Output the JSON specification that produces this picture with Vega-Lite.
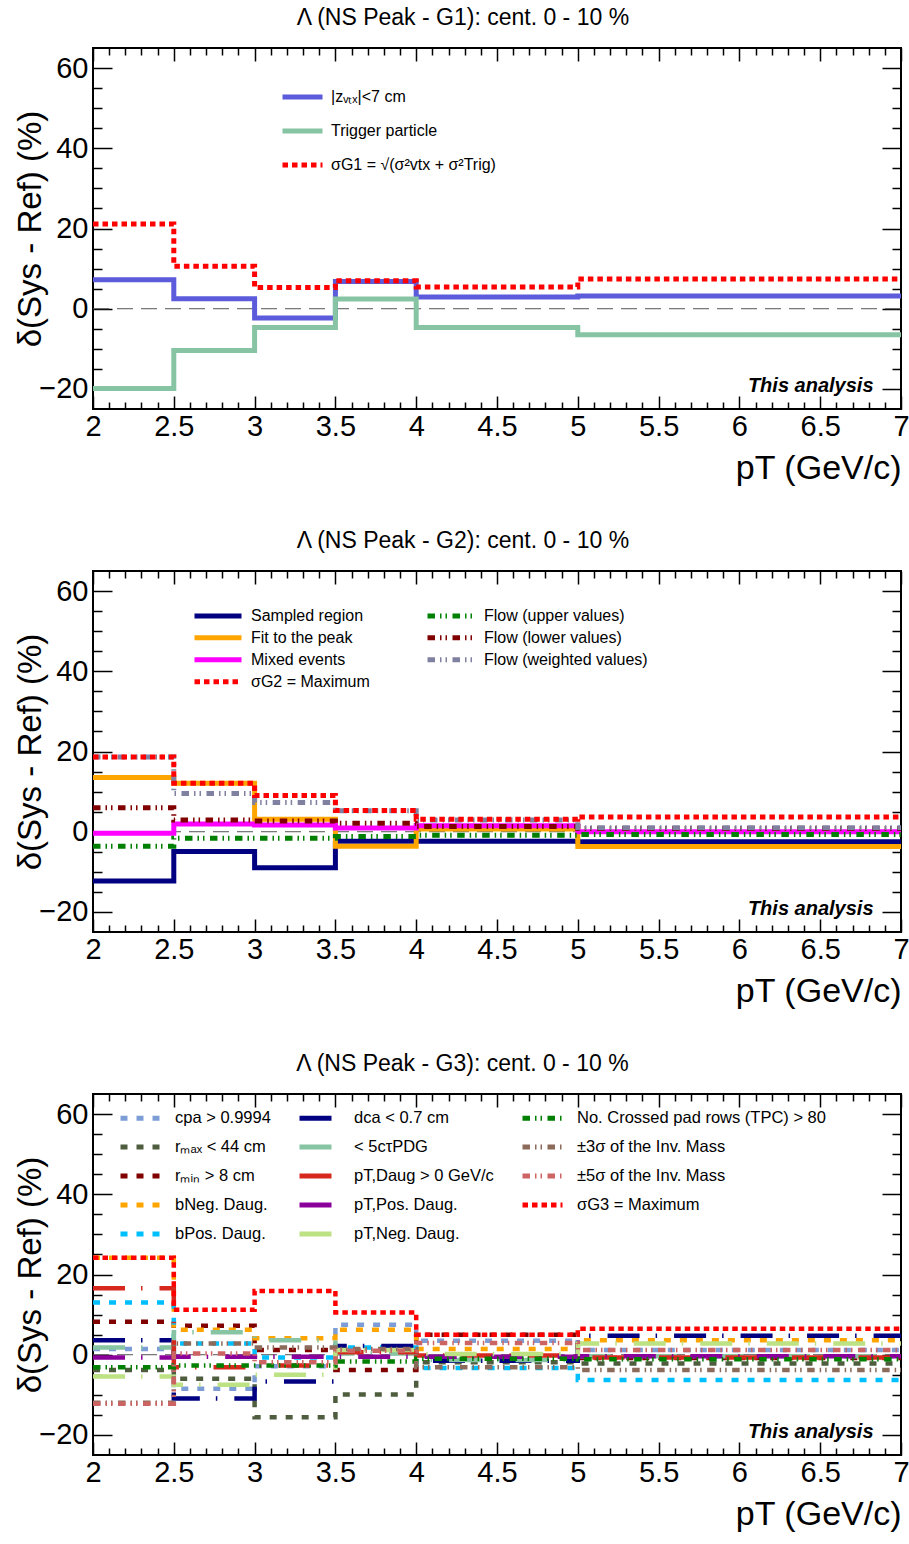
{
  "$schema": "https://vega.github.io/schema/vega-lite/v6.json",
  "background": "white",
  "padding": {"left": 13, "top": 6, "right": 0, "bottom": 0},
  "spacing": 43,
  "config": {
    "view": {"stroke": "black", "strokeWidth": 2},
    "axis": {"grid": false, "domain": false, "labelFont": "Liberation Sans", "labelFontSize": 29, "labelColor": "black", "titleFont": "Liberation Sans", "titleFontWeight": "normal", "titleColor": "black", "tickColor": "black", "tickWidth": 1.5, "labelOverlap": false, "labelFlush": false},
    "legend": {"labelFont": "Liberation Sans", "labelColor": "black", "labelLimit": 500}
  },
  "datasets": {
    "g1": [
      {"pt": 2, "v": 7.2, "s": "|zᵥₜₓ|<7 cm"}, {"pt": 2.5, "v": 2.5, "s": "|zᵥₜₓ|<7 cm"}, {"pt": 3, "v": -2.3, "s": "|zᵥₜₓ|<7 cm"}, {"pt": 3.5, "v": 6.8, "s": "|zᵥₜₓ|<7 cm"}, {"pt": 4, "v": 2.9, "s": "|zᵥₜₓ|<7 cm"}, {"pt": 5, "v": 3.2, "s": "|zᵥₜₓ|<7 cm"}, {"pt": 7, "v": 3.2, "s": "|zᵥₜₓ|<7 cm"},
      {"pt": 2, "v": -19.9, "s": "Trigger particle"}, {"pt": 2.5, "v": -10.4, "s": "Trigger particle"}, {"pt": 3, "v": -4.7, "s": "Trigger particle"}, {"pt": 3.5, "v": 2.4, "s": "Trigger particle"}, {"pt": 4, "v": -4.7, "s": "Trigger particle"}, {"pt": 5, "v": -6.5, "s": "Trigger particle"}, {"pt": 7, "v": -6.5, "s": "Trigger particle"},
      {"pt": 2, "v": 21.1, "s": "σG1 = √(σ²vtx + σ²Trig)"}, {"pt": 2.5, "v": 10.6, "s": "σG1 = √(σ²vtx + σ²Trig)"}, {"pt": 3, "v": 5.3, "s": "σG1 = √(σ²vtx + σ²Trig)"}, {"pt": 3.5, "v": 7.0, "s": "σG1 = √(σ²vtx + σ²Trig)"}, {"pt": 4, "v": 5.4, "s": "σG1 = √(σ²vtx + σ²Trig)"}, {"pt": 5, "v": 7.4, "s": "σG1 = √(σ²vtx + σ²Trig)"}, {"pt": 7, "v": 7.4, "s": "σG1 = √(σ²vtx + σ²Trig)"}
    ],
    "g2": [
      {"pt": 2, "v": -12.3, "s": "Sampled region"}, {"pt": 2.5, "v": -4.9, "s": "Sampled region"}, {"pt": 3, "v": -9.0, "s": "Sampled region"}, {"pt": 3.5, "v": -2.4, "s": "Sampled region"}, {"pt": 4, "v": -2.4, "s": "Sampled region"}, {"pt": 5, "v": -2.5, "s": "Sampled region"}, {"pt": 7, "v": -2.5, "s": "Sampled region"},
      {"pt": 2, "v": 13.5, "s": "Fit to the peak"}, {"pt": 2.5, "v": 12.1, "s": "Fit to the peak"}, {"pt": 3, "v": 3.1, "s": "Fit to the peak"}, {"pt": 3.5, "v": -3.6, "s": "Fit to the peak"}, {"pt": 4, "v": 0.7, "s": "Fit to the peak"}, {"pt": 5, "v": -3.7, "s": "Fit to the peak"}, {"pt": 7, "v": -3.7, "s": "Fit to the peak"},
      {"pt": 2, "v": -0.4, "s": "Mixed events"}, {"pt": 2.5, "v": 1.9, "s": "Mixed events"}, {"pt": 3, "v": 1.7, "s": "Mixed events"}, {"pt": 3.5, "v": 0.9, "s": "Mixed events"}, {"pt": 4, "v": 1.5, "s": "Mixed events"}, {"pt": 5, "v": 0.0, "s": "Mixed events"}, {"pt": 7, "v": 0.0, "s": "Mixed events"},
      {"pt": 2, "v": -3.6, "s": "Flow (upper values)"}, {"pt": 2.5, "v": -1.6, "s": "Flow (upper values)"}, {"pt": 3, "v": -1.6, "s": "Flow (upper values)"}, {"pt": 3.5, "v": -1.2, "s": "Flow (upper values)"}, {"pt": 4, "v": -0.9, "s": "Flow (upper values)"}, {"pt": 5, "v": -0.7, "s": "Flow (upper values)"}, {"pt": 7, "v": -0.7, "s": "Flow (upper values)"},
      {"pt": 2, "v": 6.0, "s": "Flow (lower values)"}, {"pt": 2.5, "v": 2.9, "s": "Flow (lower values)"}, {"pt": 3, "v": 2.7, "s": "Flow (lower values)"}, {"pt": 3.5, "v": 2.1, "s": "Flow (lower values)"}, {"pt": 4, "v": 1.3, "s": "Flow (lower values)"}, {"pt": 5, "v": 0.8, "s": "Flow (lower values)"}, {"pt": 7, "v": 0.8, "s": "Flow (lower values)"},
      {"pt": 2, "v": 18.6, "s": "Flow (weighted values)"}, {"pt": 2.5, "v": 9.5, "s": "Flow (weighted values)"}, {"pt": 3, "v": 7.3, "s": "Flow (weighted values)"}, {"pt": 3.5, "v": 5.2, "s": "Flow (weighted values)"}, {"pt": 4, "v": 2.9, "s": "Flow (weighted values)"}, {"pt": 5, "v": 1.0, "s": "Flow (weighted values)"}, {"pt": 7, "v": 1.0, "s": "Flow (weighted values)"},
      {"pt": 2, "v": 18.6, "s": "σG2 = Maximum"}, {"pt": 2.5, "v": 12.1, "s": "σG2 = Maximum"}, {"pt": 3, "v": 9.0, "s": "σG2 = Maximum"}, {"pt": 3.5, "v": 5.3, "s": "σG2 = Maximum"}, {"pt": 4, "v": 3.1, "s": "σG2 = Maximum"}, {"pt": 5, "v": 3.7, "s": "σG2 = Maximum"}, {"pt": 7, "v": 3.7, "s": "σG2 = Maximum"}
    ],
    "g3": [
      {"pt": 2, "v": 1.4, "s": "cpa > 0.9994"}, {"pt": 2.5, "v": -8.5, "s": "cpa > 0.9994"}, {"pt": 3, "v": -2.9, "s": "cpa > 0.9994"}, {"pt": 3.5, "v": 7.5, "s": "cpa > 0.9994"}, {"pt": 4, "v": 3.5, "s": "cpa > 0.9994"}, {"pt": 5, "v": 1.2, "s": "cpa > 0.9994"}, {"pt": 7, "v": 1.2, "s": "cpa > 0.9994"},
      {"pt": 2, "v": -3.8, "s": "rₘₐₓ < 44 cm"}, {"pt": 2.5, "v": -6.0, "s": "rₘₐₓ < 44 cm"}, {"pt": 3, "v": -15.6, "s": "rₘₐₓ < 44 cm"}, {"pt": 3.5, "v": -9.9, "s": "rₘₐₓ < 44 cm"}, {"pt": 4, "v": -1.9, "s": "rₘₐₓ < 44 cm"}, {"pt": 5, "v": -2.2, "s": "rₘₐₓ < 44 cm"}, {"pt": 7, "v": -2.2, "s": "rₘₐₓ < 44 cm"},
      {"pt": 2, "v": 8.2, "s": "rₘᵢₙ > 8 cm"}, {"pt": 2.5, "v": 7.2, "s": "rₘᵢₙ > 8 cm"}, {"pt": 3, "v": 1.2, "s": "rₘᵢₙ > 8 cm"}, {"pt": 3.5, "v": -3.8, "s": "rₘᵢₙ > 8 cm"}, {"pt": 4, "v": 5.0, "s": "rₘᵢₙ > 8 cm"}, {"pt": 5, "v": -0.8, "s": "rₘᵢₙ > 8 cm"}, {"pt": 7, "v": -0.8, "s": "rₘᵢₙ > 8 cm"},
      {"pt": 2, "v": 24.2, "s": "bNeg. Daug."}, {"pt": 2.5, "v": 6.2, "s": "bNeg. Daug."}, {"pt": 3, "v": 4.1, "s": "bNeg. Daug."}, {"pt": 3.5, "v": 6.2, "s": "bNeg. Daug."}, {"pt": 4, "v": 1.4, "s": "bNeg. Daug."}, {"pt": 5, "v": 3.6, "s": "bNeg. Daug."}, {"pt": 7, "v": 3.6, "s": "bNeg. Daug."},
      {"pt": 2, "v": 13.0, "s": "bPos. Daug."}, {"pt": 2.5, "v": 2.8, "s": "bPos. Daug."}, {"pt": 3, "v": -0.7, "s": "bPos. Daug."}, {"pt": 3.5, "v": 1.8, "s": "bPos. Daug."}, {"pt": 4, "v": -3.3, "s": "bPos. Daug."}, {"pt": 5, "v": -6.3, "s": "bPos. Daug."}, {"pt": 7, "v": -6.3, "s": "bPos. Daug."},
      {"pt": 2, "v": 3.6, "s": "dca < 0.7 cm"}, {"pt": 2.5, "v": -10.9, "s": "dca < 0.7 cm"}, {"pt": 3, "v": -6.7, "s": "dca < 0.7 cm"}, {"pt": 3.5, "v": 2.2, "s": "dca < 0.7 cm"}, {"pt": 4, "v": -1.5, "s": "dca < 0.7 cm"}, {"pt": 5, "v": 4.7, "s": "dca < 0.7 cm"}, {"pt": 7, "v": 4.7, "s": "dca < 0.7 cm"},
      {"pt": 2, "v": 1.8, "s": "< 5cτPDG"}, {"pt": 2.5, "v": 5.6, "s": "< 5cτPDG"}, {"pt": 3, "v": 3.6, "s": "< 5cτPDG"}, {"pt": 3.5, "v": 0.3, "s": "< 5cτPDG"}, {"pt": 4, "v": -1.3, "s": "< 5cτPDG"}, {"pt": 5, "v": -0.4, "s": "< 5cτPDG"}, {"pt": 7, "v": -0.4, "s": "< 5cτPDG"},
      {"pt": 2, "v": 16.6, "s": "pT,Daug > 0 GeV/c"}, {"pt": 2.5, "v": -3.1, "s": "pT,Daug > 0 GeV/c"}, {"pt": 3, "v": -2.7, "s": "pT,Daug > 0 GeV/c"}, {"pt": 3.5, "v": 0.6, "s": "pT,Daug > 0 GeV/c"}, {"pt": 4, "v": -0.2, "s": "pT,Daug > 0 GeV/c"}, {"pt": 5, "v": -0.7, "s": "pT,Daug > 0 GeV/c"}, {"pt": 7, "v": -0.7, "s": "pT,Daug > 0 GeV/c"},
      {"pt": 2, "v": -0.7, "s": "pT,Pos. Daug."}, {"pt": 2.5, "v": -0.5, "s": "pT,Pos. Daug."}, {"pt": 3, "v": -0.5, "s": "pT,Pos. Daug."}, {"pt": 3.5, "v": -0.5, "s": "pT,Pos. Daug."}, {"pt": 4, "v": -0.5, "s": "pT,Pos. Daug."}, {"pt": 5, "v": -0.4, "s": "pT,Pos. Daug."}, {"pt": 7, "v": -0.4, "s": "pT,Pos. Daug."},
      {"pt": 2, "v": -5.4, "s": "pT,Neg. Daug."}, {"pt": 2.5, "v": -7.5, "s": "pT,Neg. Daug."}, {"pt": 3, "v": -5.0, "s": "pT,Neg. Daug."}, {"pt": 3.5, "v": 1.2, "s": "pT,Neg. Daug."}, {"pt": 4, "v": 0.2, "s": "pT,Neg. Daug."}, {"pt": 5, "v": 2.8, "s": "pT,Neg. Daug."}, {"pt": 7, "v": 2.8, "s": "pT,Neg. Daug."},
      {"pt": 2, "v": -3.1, "s": "No. Crossed pad rows (TPC) > 80"}, {"pt": 2.5, "v": -2.7, "s": "No. Crossed pad rows (TPC) > 80"}, {"pt": 3, "v": -2.7, "s": "No. Crossed pad rows (TPC) > 80"}, {"pt": 3.5, "v": -1.7, "s": "No. Crossed pad rows (TPC) > 80"}, {"pt": 4, "v": -1.0, "s": "No. Crossed pad rows (TPC) > 80"}, {"pt": 5, "v": -1.1, "s": "No. Crossed pad rows (TPC) > 80"}, {"pt": 7, "v": -1.1, "s": "No. Crossed pad rows (TPC) > 80"},
      {"pt": 2, "v": -12.0, "s": "±3σ of the Inv. Mass"}, {"pt": 2.5, "v": 2.8, "s": "±3σ of the Inv. Mass"}, {"pt": 3, "v": 1.8, "s": "±3σ of the Inv. Mass"}, {"pt": 3.5, "v": 1.4, "s": "±3σ of the Inv. Mass"}, {"pt": 4, "v": -3.1, "s": "±3σ of the Inv. Mass"}, {"pt": 5, "v": -3.8, "s": "±3σ of the Inv. Mass"}, {"pt": 7, "v": -3.8, "s": "±3σ of the Inv. Mass"},
      {"pt": 2, "v": -12.2, "s": "±5σ of the Inv. Mass"}, {"pt": 2.5, "v": 0.3, "s": "±5σ of the Inv. Mass"}, {"pt": 3, "v": -1.9, "s": "±5σ of the Inv. Mass"}, {"pt": 3.5, "v": 1.0, "s": "±5σ of the Inv. Mass"}, {"pt": 4, "v": 2.9, "s": "±5σ of the Inv. Mass"}, {"pt": 5, "v": 1.2, "s": "±5σ of the Inv. Mass"}, {"pt": 7, "v": 1.2, "s": "±5σ of the Inv. Mass"},
      {"pt": 2, "v": 24.2, "s": "σG3 = Maximum"}, {"pt": 2.5, "v": 11.2, "s": "σG3 = Maximum"}, {"pt": 3, "v": 15.9, "s": "σG3 = Maximum"}, {"pt": 3.5, "v": 10.5, "s": "σG3 = Maximum"}, {"pt": 4, "v": 5.0, "s": "σG3 = Maximum"}, {"pt": 5, "v": 6.5, "s": "σG3 = Maximum"}, {"pt": 7, "v": 6.5, "s": "σG3 = Maximum"}
    ]
  },
  "vconcat": [
    {
      "title": {"text": "Λ (NS Peak - G1): cent. 0 - 10 %", "font": "Liberation Sans", "fontSize": 23, "fontWeight": "normal", "color": "black", "anchor": "middle", "frame": "bounds", "offset": 17},
      "width": 808, "height": 361,
      "layer": [
        {"data": {"values": [{}]}, "mark": {"type": "rule", "color": "#555555", "strokeDash": [16, 8], "strokeWidth": 1}, "encoding": {"y": {"datum": 0, "type": "quantitative", "axis": null}}},
        {"data": {"name": "g1"}, "mark": {"type": "line", "interpolate": "step-after", "strokeWidth": 5, "strokeCap": "butt"},
          "encoding": {
            "x": {"field": "pt", "type": "quantitative", "scale": {"domain": [2, 7], "nice": false, "zero": false},
              "axis": {"orient": "bottom", "values": [2,2.1,2.2,2.3,2.4,2.5,2.6,2.7,2.8,2.9,3,3.1,3.2,3.3,3.4,3.5,3.6,3.7,3.8,3.9,4,4.1,4.2,4.3,4.4,4.5,4.6,4.7,4.8,4.9,5,5.1,5.2,5.3,5.4,5.5,5.6,5.7,5.8,5.9,6,6.1,6.2,6.3,6.4,6.5,6.6,6.7,6.8,6.9,7],
                "tickSize": {"condition": {"test": "abs(datum.value*2 - round(datum.value*2)) < 0.01", "value": -13}, "value": -7},
                "labelExpr": "abs(datum.value*2 - round(datum.value*2)) < 0.01 ? format(datum.value, '~g') : ''",
                "labelPadding": 16, "title": "pT (GeV/c)", "titleFontSize": 34, "titleAnchor": "end", "titlePadding": 4}},
            "y": {"field": "v", "type": "quantitative", "scale": {"domain": [-25, 65], "nice": false, "zero": false},
              "axis": {"orient": "left", "values": [-20,-15,-10,-5,0,5,10,15,20,25,30,35,40,45,50,55,60],
                "tickSize": {"condition": {"test": "datum.value % 20 === 0", "value": -19}, "value": -9},
                "labelExpr": "datum.value % 20 === 0 ? datum.label : ''",
                "labelPadding": 24, "title": "δ(Sys - Ref) (%)", "titleFontSize": 33, "titlePadding": -9}},
            "color": {"field": "s", "type": "nominal", "scale": {"domain": ["|zᵥₜₓ|<7 cm", "Trigger particle", "σG1 = √(σ²vtx + σ²Trig)"], "range": ["#5b5bdb", "#86c4a3", "#ff0000"]},
              "legend": {"orient": "none", "legendX": 187, "legendY": 32, "title": null, "symbolType": "stroke", "symbolSize": 1600, "symbolStrokeWidth": 5, "labelFontSize": 16, "labelOffset": 6, "clipHeight": 34, "rowPadding": 0, "padding": 0}},
            "strokeDash": {"field": "s", "type": "nominal", "scale": {"domain": ["|zᵥₜₓ|<7 cm", "Trigger particle", "σG1 = √(σ²vtx + σ²Trig)"], "range": [[1, 0], [1, 0], [5.5, 4]]},
              "legend": {"orient": "none", "legendX": 187, "legendY": 32, "title": null, "symbolType": "stroke", "symbolSize": 1600, "symbolStrokeWidth": 5, "labelFontSize": 16, "labelOffset": 6, "clipHeight": 34, "rowPadding": 0, "padding": 0}}
          }},
        {"data": {"values": [{}]}, "mark": {"type": "text", "text": "This analysis", "align": "right", "baseline": "middle", "font": "Liberation Sans", "fontSize": 20, "fontWeight": "bold", "fontStyle": "italic", "color": "black"},
          "encoding": {
            "x": {"datum": 6.83, "type": "quantitative", "axis": {"orient": "top", "labels": false, "title": null, "values": [2,2.1,2.2,2.3,2.4,2.5,2.6,2.7,2.8,2.9,3,3.1,3.2,3.3,3.4,3.5,3.6,3.7,3.8,3.9,4,4.1,4.2,4.3,4.4,4.5,4.6,4.7,4.8,4.9,5,5.1,5.2,5.3,5.4,5.5,5.6,5.7,5.8,5.9,6,6.1,6.2,6.3,6.4,6.5,6.6,6.7,6.8,6.9,7],
              "tickSize": {"condition": {"test": "abs(datum.value*2 - round(datum.value*2)) < 0.01", "value": -13}, "value": -7}}},
            "y": {"datum": -19.2, "type": "quantitative", "axis": {"orient": "right", "labels": false, "title": null, "values": [-20,-15,-10,-5,0,5,10,15,20,25,30,35,40,45,50,55,60],
              "tickSize": {"condition": {"test": "datum.value % 20 === 0", "value": -19}, "value": -9}}}
          }}
      ],
      "resolve": {"axis": {"x": "independent", "y": "independent"}}
    },
    {
      "title": {"text": "Λ (NS Peak - G2): cent. 0 - 10 %", "font": "Liberation Sans", "fontSize": 23, "fontWeight": "normal", "color": "black", "anchor": "middle", "frame": "bounds", "offset": 17},
      "width": 808, "height": 361,
      "layer": [
        {"data": {"values": [{}]}, "mark": {"type": "rule", "color": "#555555", "strokeDash": [16, 8], "strokeWidth": 1}, "encoding": {"y": {"datum": 0, "type": "quantitative", "axis": null}}},
        {"data": {"name": "g2"}, "mark": {"type": "line", "interpolate": "step-after", "strokeWidth": 5, "strokeCap": "butt"},
          "encoding": {
            "x": {"field": "pt", "type": "quantitative", "scale": {"domain": [2, 7], "nice": false, "zero": false},
              "axis": {"orient": "bottom", "values": [2,2.1,2.2,2.3,2.4,2.5,2.6,2.7,2.8,2.9,3,3.1,3.2,3.3,3.4,3.5,3.6,3.7,3.8,3.9,4,4.1,4.2,4.3,4.4,4.5,4.6,4.7,4.8,4.9,5,5.1,5.2,5.3,5.4,5.5,5.6,5.7,5.8,5.9,6,6.1,6.2,6.3,6.4,6.5,6.6,6.7,6.8,6.9,7],
                "tickSize": {"condition": {"test": "abs(datum.value*2 - round(datum.value*2)) < 0.01", "value": -13}, "value": -7},
                "labelExpr": "abs(datum.value*2 - round(datum.value*2)) < 0.01 ? format(datum.value, '~g') : ''",
                "labelPadding": 16, "title": "pT (GeV/c)", "titleFontSize": 34, "titleAnchor": "end", "titlePadding": 4}},
            "y": {"field": "v", "type": "quantitative", "scale": {"domain": [-25, 65], "nice": false, "zero": false},
              "axis": {"orient": "left", "values": [-20,-15,-10,-5,0,5,10,15,20,25,30,35,40,45,50,55,60],
                "tickSize": {"condition": {"test": "datum.value % 20 === 0", "value": -19}, "value": -9},
                "labelExpr": "datum.value % 20 === 0 ? datum.label : ''",
                "labelPadding": 24, "title": "δ(Sys - Ref) (%)", "titleFontSize": 33, "titlePadding": -9}},
            "color": {"field": "s", "type": "nominal", "scale": {"domain": ["Sampled region", "Fit to the peak", "Mixed events", "σG2 = Maximum", "Flow (upper values)", "Flow (lower values)", "Flow (weighted values)"], "range": ["#000080", "#ffa500", "#ff00ff", "#ff0000", "#008000", "#800000", "#8080a0"]},
              "legend": {"orient": "none", "legendX": 99, "legendY": 34, "title": null, "columns": 2, "columnPadding": 55, "symbolType": "stroke", "symbolSize": 2209, "symbolStrokeWidth": 5, "labelFontSize": 16, "labelOffset": 7, "clipHeight": 21.7, "rowPadding": 0, "padding": 0}},
            "strokeDash": {"field": "s", "type": "nominal", "scale": {"domain": ["Sampled region", "Fit to the peak", "Mixed events", "σG2 = Maximum", "Flow (upper values)", "Flow (lower values)", "Flow (weighted values)"], "range": [[1, 0], [1, 0], [1, 0], [5.5, 4], [7.5, 5, 1.5, 4, 1.5, 5.5], [7.5, 5, 1.5, 4, 1.5, 5.5], [7.5, 5, 1.5, 4, 1.5, 5.5]]},
              "legend": {"orient": "none", "legendX": 99, "legendY": 34, "title": null, "columns": 2, "columnPadding": 55, "symbolType": "stroke", "symbolSize": 2209, "symbolStrokeWidth": 5, "labelFontSize": 16, "labelOffset": 7, "clipHeight": 21.7, "rowPadding": 0, "padding": 0}}
          }},
        {"data": {"values": [{}]}, "mark": {"type": "text", "text": "This analysis", "align": "right", "baseline": "middle", "font": "Liberation Sans", "fontSize": 20, "fontWeight": "bold", "fontStyle": "italic", "color": "black"},
          "encoding": {
            "x": {"datum": 6.83, "type": "quantitative", "axis": {"orient": "top", "labels": false, "title": null, "values": [2,2.1,2.2,2.3,2.4,2.5,2.6,2.7,2.8,2.9,3,3.1,3.2,3.3,3.4,3.5,3.6,3.7,3.8,3.9,4,4.1,4.2,4.3,4.4,4.5,4.6,4.7,4.8,4.9,5,5.1,5.2,5.3,5.4,5.5,5.6,5.7,5.8,5.9,6,6.1,6.2,6.3,6.4,6.5,6.6,6.7,6.8,6.9,7],
              "tickSize": {"condition": {"test": "abs(datum.value*2 - round(datum.value*2)) < 0.01", "value": -13}, "value": -7}}},
            "y": {"datum": -19.2, "type": "quantitative", "axis": {"orient": "right", "labels": false, "title": null, "values": [-20,-15,-10,-5,0,5,10,15,20,25,30,35,40,45,50,55,60],
              "tickSize": {"condition": {"test": "datum.value % 20 === 0", "value": -19}, "value": -9}}}
          }}
      ],
      "resolve": {"axis": {"x": "independent", "y": "independent"}}
    },
    {
      "title": {"text": "Λ (NS Peak - G3): cent. 0 - 10 %", "font": "Liberation Sans", "fontSize": 23, "fontWeight": "normal", "color": "black", "anchor": "middle", "frame": "bounds", "offset": 17},
      "width": 808, "height": 361,
      "layer": [
        {"data": {"values": [{}]}, "mark": {"type": "rule", "color": "#555555", "strokeDash": [16, 8], "strokeWidth": 1}, "encoding": {"y": {"datum": 0, "type": "quantitative", "axis": null}}},
        {"data": {"name": "g3"}, "mark": {"type": "line", "interpolate": "step-after", "strokeWidth": 4.5, "strokeCap": "butt"},
          "encoding": {
            "x": {"field": "pt", "type": "quantitative", "scale": {"domain": [2, 7], "nice": false, "zero": false},
              "axis": {"orient": "bottom", "values": [2,2.1,2.2,2.3,2.4,2.5,2.6,2.7,2.8,2.9,3,3.1,3.2,3.3,3.4,3.5,3.6,3.7,3.8,3.9,4,4.1,4.2,4.3,4.4,4.5,4.6,4.7,4.8,4.9,5,5.1,5.2,5.3,5.4,5.5,5.6,5.7,5.8,5.9,6,6.1,6.2,6.3,6.4,6.5,6.6,6.7,6.8,6.9,7],
                "tickSize": {"condition": {"test": "abs(datum.value*2 - round(datum.value*2)) < 0.01", "value": -13}, "value": -7},
                "labelExpr": "abs(datum.value*2 - round(datum.value*2)) < 0.01 ? format(datum.value, '~g') : ''",
                "labelPadding": 16, "title": "pT (GeV/c)", "titleFontSize": 34, "titleAnchor": "end", "titlePadding": 4}},
            "y": {"field": "v", "type": "quantitative", "scale": {"domain": [-25, 65], "nice": false, "zero": false},
              "axis": {"orient": "left", "values": [-20,-15,-10,-5,0,5,10,15,20,25,30,35,40,45,50,55,60],
                "tickSize": {"condition": {"test": "datum.value % 20 === 0", "value": -19}, "value": -9},
                "labelExpr": "datum.value % 20 === 0 ? datum.label : ''",
                "labelPadding": 24, "title": "δ(Sys - Ref) (%)", "titleFontSize": 33, "titlePadding": -9}},
            "color": {"field": "s", "type": "nominal", "scale": {"domain": ["cpa > 0.9994", "rₘₐₓ < 44 cm", "rₘᵢₙ > 8 cm", "bNeg. Daug.", "bPos. Daug.", "dca < 0.7 cm", "< 5cτPDG", "pT,Daug > 0 GeV/c", "pT,Pos. Daug.", "pT,Neg. Daug.", "No. Crossed pad rows (TPC) > 80", "±3σ of the Inv. Mass", "±5σ of the Inv. Mass", "σG3 = Maximum"], "range": ["#7c9dd6", "#4f5d3f", "#800000", "#ffa500", "#00bfff", "#000080", "#86c4a3", "#d7281e", "#8b009b", "#bde283", "#008000", "#8c6b5b", "#cd6464", "#ff0000"]},
              "legend": {"orient": "none", "legendX": 25, "legendY": 9.75, "title": null, "columns": 3, "columnPadding": 26, "symbolType": "stroke", "symbolSize": 1600, "symbolStrokeWidth": 5, "labelFontSize": 16.5, "labelOffset": 12, "clipHeight": 28.5, "rowPadding": 0, "padding": 0}},
            "strokeDash": {"field": "s", "type": "nominal", "scale": {"domain": ["cpa > 0.9994", "rₘₐₓ < 44 cm", "rₘᵢₙ > 8 cm", "bNeg. Daug.", "bPos. Daug.", "dca < 0.7 cm", "< 5cτPDG", "pT,Daug > 0 GeV/c", "pT,Pos. Daug.", "pT,Neg. Daug.", "No. Crossed pad rows (TPC) > 80", "±3σ of the Inv. Mass", "±5σ of the Inv. Mass", "σG3 = Maximum"], "range": [[7, 9], [7, 9], [7, 9], [7, 9], [7, 9], [32, 16, 1.5, 17], [32, 16, 1.5, 17], [32, 16, 1.5, 17], [32, 16, 1.5, 17], [32, 16, 1.5, 17], [7.5, 5, 1.5, 4, 1.5, 5.5], [7.5, 5, 1.5, 4, 1.5, 5.5], [7.5, 5, 1.5, 4, 1.5, 5.5], [5.5, 4]]},
              "legend": {"orient": "none", "legendX": 25, "legendY": 9.75, "title": null, "columns": 3, "columnPadding": 26, "symbolType": "stroke", "symbolSize": 1600, "symbolStrokeWidth": 5, "labelFontSize": 16.5, "labelOffset": 12, "clipHeight": 28.5, "rowPadding": 0, "padding": 0}}
          }},
        {"data": {"values": [{}]}, "mark": {"type": "text", "text": "This analysis", "align": "right", "baseline": "middle", "font": "Liberation Sans", "fontSize": 20, "fontWeight": "bold", "fontStyle": "italic", "color": "black"},
          "encoding": {
            "x": {"datum": 6.83, "type": "quantitative", "axis": {"orient": "top", "labels": false, "title": null, "values": [2,2.1,2.2,2.3,2.4,2.5,2.6,2.7,2.8,2.9,3,3.1,3.2,3.3,3.4,3.5,3.6,3.7,3.8,3.9,4,4.1,4.2,4.3,4.4,4.5,4.6,4.7,4.8,4.9,5,5.1,5.2,5.3,5.4,5.5,5.6,5.7,5.8,5.9,6,6.1,6.2,6.3,6.4,6.5,6.6,6.7,6.8,6.9,7],
              "tickSize": {"condition": {"test": "abs(datum.value*2 - round(datum.value*2)) < 0.01", "value": -13}, "value": -7}}},
            "y": {"datum": -19.2, "type": "quantitative", "axis": {"orient": "right", "labels": false, "title": null, "values": [-20,-15,-10,-5,0,5,10,15,20,25,30,35,40,45,50,55,60],
              "tickSize": {"condition": {"test": "datum.value % 20 === 0", "value": -19}, "value": -9}}}
          }}
      ],
      "resolve": {"axis": {"x": "independent", "y": "independent"}}
    }
  ],
  "resolve": {"scale": {"color": "independent", "strokeDash": "independent"}, "legend": {"color": "independent", "strokeDash": "independent"}}
}
